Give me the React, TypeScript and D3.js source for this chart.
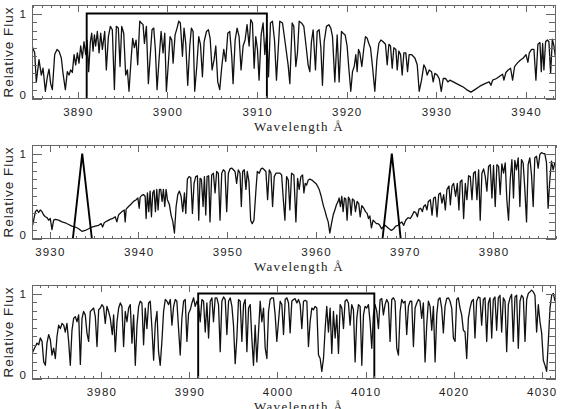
import React, { useRef, useEffect } from 'react';
import { select, scaleLinear, line, range } from 'd3';

// flux, [wavelength (A), relative flux]
const panel1Flux = [
  [3884.90,0.62],[3885.20,0.54],[3885.38,0.20],[3885.68,0.46],[3885.94,0.28],[3886.13,0.36],[3886.39,0.09],[3886.61,0.26],[3886.80,0.35],[3886.98,0.18],[3887.17,0.11],[3887.43,0.52],[3887.69,0.58],[3887.91,0.56],[3888.17,0.48],[3888.36,0.30],[3888.62,0.11],[3888.84,0.32],[3889.03,0.28],[3889.21,0.34],[3889.40,0.31],[3889.59,0.52],[3889.77,0.40],[3889.96,0.54],[3890.14,0.42],[3890.33,0.62],[3890.52,0.48],[3890.70,0.67],[3890.89,0.52],[3891.04,0.69],[3891.22,0.32],[3891.41,0.67],[3891.56,0.77],[3891.71,0.56],[3891.86,0.75],[3892.00,0.62],[3892.19,0.79],[3892.38,0.54],[3892.56,0.77],[3892.75,0.58],[3893.01,0.79],[3893.19,0.34],[3893.42,0.73],[3893.64,0.85],[3893.86,0.81],[3894.09,0.11],[3894.31,0.85],[3894.53,0.83],[3894.72,0.38],[3894.91,0.85],[3895.13,0.77],[3895.35,0.28],[3895.54,0.34],[3895.72,0.09],[3895.95,0.46],[3896.13,0.71],[3896.32,0.60],[3896.51,0.69],[3896.69,0.40],[3896.92,0.91],[3897.10,0.89],[3897.29,0.87],[3897.44,0.65],[3897.66,0.85],[3897.88,0.18],[3898.11,0.54],[3898.29,0.81],[3898.48,0.83],[3898.66,0.58],[3898.85,0.11],[3899.07,0.46],[3899.30,0.79],[3899.52,0.54],[3899.71,0.77],[3899.89,0.09],[3900.11,0.42],[3900.30,0.73],[3900.49,0.69],[3900.64,0.42],[3900.86,0.75],[3901.08,0.83],[3901.27,0.91],[3901.45,0.89],[3901.68,0.50],[3901.86,0.83],[3902.05,0.65],[3902.27,0.16],[3902.50,0.62],[3902.68,0.83],[3902.87,0.79],[3903.05,0.09],[3903.28,0.38],[3903.50,0.73],[3903.69,0.64],[3903.91,0.26],[3904.10,0.67],[3904.36,0.79],[3904.58,0.81],[3904.77,0.71],[3904.99,0.34],[3905.21,0.46],[3905.40,0.62],[3905.62,0.20],[3905.84,0.11],[3906.07,0.38],[3906.29,0.58],[3906.51,0.44],[3906.74,0.77],[3906.96,0.79],[3907.18,0.50],[3907.33,0.18],[3907.56,0.69],[3907.78,0.83],[3908.00,0.73],[3908.22,0.34],[3908.45,0.62],[3908.67,0.69],[3908.89,0.87],[3909.12,0.62],[3909.30,0.93],[3909.49,0.89],[3909.68,0.36],[3909.86,0.73],[3910.05,0.58],[3910.23,0.22],[3910.46,0.75],[3910.68,0.89],[3910.87,0.52],[3911.09,0.77],[3911.28,0.26],[3911.50,0.89],[3911.72,0.91],[3911.95,0.69],[3912.17,0.22],
  [3912.54,0.91],[3912.84,0.89],[3913.10,0.69],[3913.47,0.40],[3913.66,0.18],[3913.92,0.89],[3914.10,0.85],[3914.33,0.38],[3914.51,0.54],[3914.70,0.91],[3914.96,0.89],[3915.22,0.85],[3915.44,0.65],[3915.70,0.40],[3915.89,0.32],[3916.07,0.67],[3916.26,0.81],[3916.52,0.34],[3916.71,0.79],[3916.93,0.81],[3917.12,0.60],[3917.30,0.16],[3917.49,0.67],[3917.75,0.85],[3918.01,0.87],[3918.23,0.83],[3918.42,0.73],[3918.68,0.20],[3918.94,0.75],[3919.16,0.20],[3919.42,0.79],[3919.61,0.77],[3919.83,0.75],[3920.05,0.62],[3920.24,0.36],[3920.46,0.09],[3920.65,0.32],[3920.84,0.38],[3921.02,0.52],[3921.17,0.32],[3921.32,0.58],[3921.47,0.54],[3921.69,0.38],[3921.92,0.60],[3922.10,0.73],[3922.29,0.71],[3922.47,0.65],[3922.66,0.60],[3922.88,0.38],[3923.14,0.09],[3923.37,0.46],[3923.59,0.65],[3923.81,0.69],[3924.07,0.67],[3924.33,0.64],[3924.52,0.40],[3924.71,0.64],[3924.89,0.62],[3925.08,0.36],[3925.26,0.60],[3925.49,0.58],[3925.64,0.34],[3925.82,0.56],[3926.01,0.52],[3926.19,0.28],[3926.38,0.54],[3926.60,0.54],[3926.79,0.32],[3926.97,0.52],[3927.23,0.52],[3927.61,0.48],[3927.87,0.40],[3928.09,0.09],[3928.35,0.22],[3928.61,0.40],[3928.80,0.36],[3928.98,0.28],[3929.21,0.34],[3929.47,0.32],[3929.65,0.20],[3929.84,0.30],[3930.10,0.28],[3930.32,0.24],[3930.55,0.09],[3930.77,0.24],[3931.03,0.24],[3931.29,0.20],[3931.51,0.22],[3931.89,0.20],[3932.26,0.18],[3932.63,0.16],[3933.00,0.14],[3933.37,0.11],[3933.86,0.08],[3934.30,0.11],[3934.86,0.15],[3935.42,0.18],[3935.90,0.20],[3936.09,0.16],[3936.28,0.22],[3936.72,0.24],[3937.10,0.27],[3937.39,0.29],[3937.54,0.22],[3937.76,0.31],[3938.02,0.34],[3938.28,0.36],[3938.51,0.22],[3938.73,0.38],[3939.03,0.42],[3939.33,0.45],[3939.70,0.48],[3940.00,0.52],[3940.22,0.43],[3940.37,0.54],[3940.63,0.58],[3940.89,0.58],[3941.11,0.22],[3941.33,0.64],[3941.56,0.66],[3941.71,0.32],[3941.86,0.65],[3942.00,0.34],[3942.19,0.67],[3942.38,0.69],[3942.56,0.67],[3942.75,0.30],[3942.94,0.70],[3943.12,0.62],[3943.27,0.50],
];

const panel2Flux = [
  [3928.00,0.13],[3928.19,0.22],[3928.38,0.32],[3928.56,0.34],[3928.75,0.31],[3928.94,0.34],[3929.13,0.32],[3929.31,0.28],[3929.50,0.26],[3929.69,0.25],[3929.88,0.22],[3930.06,0.24],[3930.25,0.11],[3930.44,0.22],[3930.63,0.23],[3931.00,0.22],[3931.38,0.20],[3931.75,0.19],[3932.13,0.17],[3932.50,0.15],[3932.88,0.14],[3933.25,0.12],[3933.63,0.09],[3934.00,0.10],[3934.38,0.12],[3934.75,0.14],[3935.13,0.15],[3935.50,0.16],[3935.80,0.18],[3935.95,0.14],[3936.14,0.19],[3936.44,0.21],[3936.81,0.23],[3937.11,0.24],[3937.38,0.26],[3937.56,0.20],[3937.75,0.28],[3938.13,0.32],[3938.39,0.34],[3938.50,0.20],[3938.61,0.35],[3938.88,0.38],[3939.18,0.41],[3939.44,0.44],[3939.74,0.46],[3939.93,0.48],[3940.08,0.36],[3940.19,0.49],[3940.38,0.51],[3940.56,0.52],[3940.75,0.50],[3940.86,0.24],[3941.01,0.54],[3941.16,0.32],[3941.31,0.56],[3941.46,0.26],[3941.61,0.54],[3941.76,0.57],[3941.91,0.32],[3942.06,0.58],[3942.21,0.34],[3942.36,0.58],[3942.51,0.58],[3942.66,0.44],[3942.81,0.58],[3942.96,0.38],[3943.11,0.58],[3943.26,0.46],[3943.49,0.40],[3943.67,0.28],[3943.86,0.21],[3944.05,0.07],[3944.24,0.38],[3944.43,0.52],[3944.61,0.56],[3944.80,0.50],[3944.99,0.32],[3945.18,0.54],[3945.33,0.30],[3945.51,0.70],[3945.70,0.73],[3945.89,0.72],[3946.08,0.30],[3946.26,0.65],[3946.45,0.73],[3946.64,0.74],[3946.79,0.22],[3946.94,0.71],[3947.09,0.70],[3947.28,0.38],[3947.43,0.73],[3947.58,0.28],[3947.73,0.73],[3947.91,0.74],[3948.06,0.20],[3948.25,0.75],[3948.44,0.77],[3948.63,0.54],[3948.81,0.79],[3949.00,0.77],[3949.19,0.22],[3949.38,0.77],[3949.56,0.81],[3949.75,0.79],[3949.94,0.32],[3950.13,0.77],[3950.31,0.82],[3950.50,0.83],[3950.69,0.81],[3950.88,0.79],[3951.06,0.65],[3951.25,0.81],[3951.44,0.77],[3951.59,0.38],[3951.74,0.79],[3951.92,0.81],[3952.11,0.58],[3952.26,0.79],[3952.45,0.67],[3952.64,0.22],[3952.82,0.18],[3953.01,0.22],[3953.24,0.58],[3953.39,0.79],[3953.61,0.77],[3953.80,0.82],[3953.99,0.83],[3954.17,0.81],[3954.36,0.79],[3954.55,0.46],[3954.74,0.81],[3954.93,0.77],[3955.11,0.38],[3955.30,0.73],[3955.49,0.77],
  [3955.94,0.77],[3956.13,0.75],[3956.31,0.48],[3956.50,0.22],[3956.69,0.73],[3956.88,0.69],[3957.06,0.34],[3957.25,0.77],[3957.51,0.75],[3957.74,0.20],[3957.93,0.71],[3958.11,0.58],[3958.30,0.73],[3958.49,0.75],[3958.64,0.54],[3958.79,0.65],[3958.94,0.63],[3959.13,0.69],[3959.31,0.70],[3959.54,0.69],[3959.76,0.67],[3959.99,0.65],[3960.18,0.62],[3960.36,0.58],[3960.59,0.50],[3960.81,0.40],[3961.04,0.32],[3961.19,0.26],[3961.38,0.20],[3961.56,0.07],[3961.75,0.18],[3961.94,0.28],[3962.13,0.34],[3962.31,0.40],[3962.50,0.44],[3962.61,0.48],[3962.76,0.38],[3962.91,0.50],[3963.06,0.32],[3963.21,0.48],[3963.36,0.47],[3963.51,0.22],[3963.66,0.49],[3963.81,0.46],[3963.96,0.28],[3964.11,0.47],[3964.30,0.45],[3964.45,0.32],[3964.64,0.44],[3964.83,0.41],[3964.98,0.26],[3965.17,0.39],[3965.39,0.36],[3965.58,0.32],[3965.77,0.30],[3965.92,0.24],[3966.07,0.27],[3966.25,0.13],[3966.44,0.22],[3966.63,0.20],[3966.81,0.18],[3967.00,0.18],[3967.19,0.16],[3967.38,0.12],[3967.56,0.14],[3967.79,0.16],[3968.01,0.14],[3968.24,0.12],[3968.50,0.10],[3968.76,0.12],[3968.99,0.15],[3969.25,0.16],[3969.44,0.18],[3969.67,0.20],[3969.89,0.16],[3970.11,0.22],[3970.38,0.25],[3970.64,0.24],[3970.86,0.28],[3971.05,0.32],[3971.24,0.31],[3971.43,0.26],[3971.61,0.35],[3971.80,0.36],[3971.99,0.32],[3972.14,0.38],[3972.33,0.40],[3972.51,0.34],[3972.66,0.44],[3972.89,0.46],[3973.08,0.28],[3973.26,0.48],[3973.45,0.49],[3973.64,0.26],[3973.83,0.52],[3974.01,0.54],[3974.20,0.42],[3974.39,0.52],[3974.58,0.34],[3974.76,0.58],[3974.99,0.62],[3975.14,0.40],[3975.33,0.62],[3975.51,0.65],[3975.74,0.50],[3975.93,0.65],[3976.11,0.34],[3976.26,0.67],[3976.45,0.69],[3976.64,0.24],[3976.83,0.65],[3977.01,0.46],[3977.20,0.74],[3977.39,0.73],[3977.58,0.46],[3977.76,0.77],[3977.95,0.79],[3978.14,0.46],[3978.33,0.81],[3978.51,0.22],[3978.70,0.77],[3978.89,0.82],[3979.08,0.73],[3979.26,0.56],[3979.45,0.85],[3979.64,0.87],[3979.83,0.48],[3980.01,0.86],[3980.20,0.38],[3980.39,0.87],[3980.58,0.85],[3980.76,0.52],[3980.95,0.88],[3981.14,0.77],[3981.33,0.89],[3981.51,0.46],[3981.70,0.22],[3981.89,0.69],[3982.08,0.93],[3982.26,0.48],[3982.41,0.92],[3982.60,0.81],[3982.79,0.95],[3982.98,0.38],[3983.16,0.93],[3983.35,0.89],[3983.54,0.58],[3983.73,0.20],[3983.91,0.87],[3984.10,0.95],[3984.29,0.75],[3984.48,0.38],[3984.66,0.95],[3984.85,0.97],[3985.04,0.83],[3985.23,0.99],[3985.41,1.01],[3985.60,1.00],[3985.79,1.00],[3985.98,0.89],[3986.16,0.36],[3986.35,0.69],[3986.54,0.91],[3986.73,0.81],[3986.91,0.89],
];

const panel3Flux = [
  [3972.13,0.30],[3972.32,0.34],[3972.51,0.38],[3972.70,0.42],[3972.89,0.40],[3973.08,0.48],[3973.27,0.44],[3973.46,0.20],[3973.65,0.16],[3973.83,0.42],[3974.02,0.52],[3974.21,0.46],[3974.40,0.28],[3974.59,0.36],[3974.78,0.24],[3974.97,0.50],[3975.16,0.63],[3975.35,0.59],[3975.54,0.65],[3975.73,0.63],[3975.91,0.55],[3976.10,0.65],[3976.29,0.44],[3976.48,0.16],[3976.67,0.57],[3976.86,0.71],[3977.05,0.73],[3977.24,0.67],[3977.43,0.75],[3977.62,0.17],[3977.81,0.71],[3977.99,0.79],[3978.18,0.75],[3978.37,0.54],[3978.56,0.44],[3978.75,0.79],[3978.94,0.81],[3979.13,0.83],[3979.32,0.73],[3979.51,0.38],[3979.70,0.81],[3979.89,0.83],[3980.07,0.87],[3980.26,0.84],[3980.45,0.65],[3980.64,0.85],[3980.83,0.79],[3981.02,0.71],[3981.25,0.52],[3981.40,0.75],[3981.59,0.32],[3981.78,0.67],[3981.97,0.83],[3982.16,0.89],[3982.34,0.85],[3982.53,0.38],[3982.72,0.79],[3982.91,0.67],[3983.10,0.83],[3983.29,0.87],[3983.48,0.42],[3983.67,0.75],[3983.86,0.16],[3984.05,0.63],[3984.24,0.85],[3984.42,0.91],[3984.61,0.89],[3984.80,0.40],[3984.99,0.83],[3985.18,0.59],[3985.37,0.89],[3985.56,0.91],[3985.75,0.59],[3985.94,0.22],[3986.13,0.65],[3986.32,0.79],[3986.50,0.32],[3986.69,0.16],[3986.88,0.44],[3987.07,0.79],[3987.26,0.93],[3987.45,0.91],[3987.64,0.87],[3987.83,0.93],[3988.02,0.63],[3988.21,0.85],[3988.40,0.93],[3988.58,0.91],[3988.77,0.59],[3988.96,0.28],[3989.15,0.71],[3989.34,0.91],[3989.53,0.93],[3989.72,0.44],[3989.91,0.77],[3990.10,0.81],[3990.29,0.89],[3990.48,0.95],[3990.66,0.85],[3990.85,0.91],[3991.04,0.87],[3991.23,0.67],[3991.42,0.93],[3991.61,0.91],[3991.80,0.55],[3991.99,0.89],[3992.18,0.48],[3992.37,0.91],[3992.56,0.95],[3992.74,0.67],[3992.93,0.95],[3993.12,0.95],[3993.31,0.87],[3993.50,0.32],[3993.69,0.91],[3993.88,0.96],[3994.07,0.93],[3994.26,0.52],[3994.45,0.91],[3994.64,0.95],[3994.83,0.85],[3995.01,0.63],[3995.20,0.18],[3995.39,0.48],[3995.58,0.93],[3995.77,0.91],[3995.96,0.44],[3996.15,0.87],[3996.34,0.93],[3996.53,0.32],[3996.72,0.83],[3996.91,0.87],[3997.09,0.48],[3997.28,0.16],[3997.47,0.63],[3997.66,0.20],[3997.85,0.55],[3998.04,0.91],[3998.23,0.67],[3998.42,0.83],[3998.61,0.36],[3998.80,0.24],[3998.99,0.79],[3999.17,0.93],[3999.36,0.95],[3999.55,0.95],[3999.74,0.75],[3999.93,0.44],
  [4000.31,0.91],[4000.50,0.87],[4000.69,0.52],[4000.88,0.93],[4001.07,0.95],[4001.26,0.89],[4001.44,0.54],[4001.63,0.91],[4001.82,0.93],[4002.01,0.94],[4002.20,0.89],[4002.39,0.93],[4002.58,0.87],[4002.77,0.59],[4002.96,0.91],[4003.15,0.92],[4003.34,0.91],[4003.52,0.38],[4003.71,0.67],[4003.90,0.83],[4004.09,0.81],[4004.28,0.85],[4004.47,0.83],[4004.66,0.28],[4004.85,0.24],[4005.04,0.09],[4005.23,0.24],[4005.42,0.59],[4005.60,0.85],[4005.79,0.55],[4005.98,0.83],[4006.17,0.30],[4006.36,0.79],[4006.55,0.48],[4006.74,0.75],[4006.93,0.30],[4007.12,0.87],[4007.31,0.83],[4007.50,0.59],[4007.68,0.91],[4007.87,0.93],[4008.06,0.89],[4008.25,0.63],[4008.44,0.87],[4008.63,0.81],[4008.82,0.20],[4009.01,0.71],[4009.20,0.87],[4009.39,0.85],[4009.58,0.16],[4009.77,0.75],[4009.95,0.85],[4010.14,0.83],[4010.33,0.87],[4010.52,0.67],[4010.71,0.36],[4010.90,0.75],[4011.09,0.87],[4011.28,0.79],[4011.47,0.59],[4011.66,0.93],[4011.85,0.94],[4012.03,0.75],[4012.22,0.87],[4012.41,0.93],[4012.60,0.89],[4012.79,0.44],[4012.98,0.93],[4013.17,0.95],[4013.36,0.91],[4013.55,0.36],[4013.74,0.28],[4013.93,0.79],[4014.11,0.93],[4014.30,0.89],[4014.49,0.91],[4014.68,0.52],[4014.87,0.85],[4015.06,0.91],[4015.25,0.91],[4015.44,0.38],[4015.63,0.83],[4015.82,0.89],[4016.01,0.93],[4016.19,0.91],[4016.38,0.71],[4016.57,0.89],[4016.76,0.20],[4016.95,0.63],[4017.14,0.91],[4017.33,0.85],[4017.52,0.57],[4017.71,0.85],[4017.90,0.20],[4018.09,0.75],[4018.27,0.93],[4018.46,0.95],[4018.65,0.83],[4018.84,0.54],[4019.03,0.85],[4019.22,0.94],[4019.41,0.95],[4019.60,0.91],[4019.79,0.83],[4019.98,0.48],[4020.17,0.44],[4020.35,0.93],[4020.54,0.95],[4020.73,0.83],[4020.92,0.75],[4021.11,0.57],[4021.30,0.55],[4021.49,0.24],[4021.68,0.71],[4021.87,0.83],[4022.06,0.91],[4022.25,0.93],[4022.43,0.48],[4022.62,0.91],[4022.81,0.96],[4023.00,0.95],[4023.19,0.63],[4023.38,0.93],[4023.57,0.95],[4023.76,0.44],[4023.95,0.89],[4024.14,0.95],[4024.33,0.48],[4024.51,0.93],[4024.70,0.96],[4024.89,0.57],[4025.08,0.95],[4025.27,0.98],[4025.46,0.55],[4025.65,0.95],[4025.84,0.91],[4026.03,0.32],[4026.22,0.87],[4026.41,0.95],[4026.59,0.99],[4026.78,0.44],[4026.97,0.96],[4027.16,0.98],[4027.35,0.36],[4027.54,0.91],[4027.73,0.98],[4027.92,0.95],[4028.11,0.44],[4028.30,0.93],[4028.48,1.00],[4028.67,1.02],[4028.86,1.04],[4029.05,1.02],[4029.24,0.98],[4029.43,0.55],[4029.62,0.87],[4029.81,0.67],[4030.00,0.54],[4030.19,0.22],[4030.38,0.16],[4030.57,0.09],[4030.76,0.44],[4030.95,0.83],[4031.14,0.98],[4031.33,1.00],[4031.52,0.91],
];

// overplotted profiles: filter boxes (panels 1, 3) and the Ca H & K triangles (panel 2)
const panel1Overlays = [[[3891.0, 0], [3891.0, 1], [3911.1, 1], [3911.1, 0]]];
const panel2Overlays = [
  [[3932.6, 0], [3933.66, 1], [3934.75, 0]],
  [[3967.5, 0], [3968.55, 1], [3969.55, 0]],
];
const panel3Overlays = [[[3991.0, 0], [3991.0, 1], [4011.0, 1], [4011.0, 0]]];

const panelDomains = [[3884.9, 3943.35], [3928.0, 3987.05], [3972.13, 4031.63]];
const panelTicks = [
  [3890, 3900, 3910, 3920, 3930, 3940],
  [3930, 3940, 3950, 3960, 3970, 3980],
  [3980, 3990, 4000, 4010, 4020, 4030],
];
const yTickValues = [0, 1];
const xTitle = 'Wavelength \u00c5';
const yTitle = 'Relative Flux';

const LEFT = 32;
const RIGHT = 556;
const H = 94;
const TOPS = [5, 145, 285];
const SANS = '"Liberation Sans", Arial, sans-serif';
const SERIF = '"Liberation Serif", "Times New Roman", serif';

export default function App() {
  const svgRef = useRef<SVGSVGElement>(null);

  useEffect(() => {
    const svg = select(svgRef.current);
    svg.selectAll('*').remove();

    const spectra = [panel1Flux, panel2Flux, panel3Flux];
    const overlays = [panel1Overlays, panel2Overlays, panel3Overlays];

    spectra.forEach((flux, i) => {
      const top = TOPS[i];
      const bottom = top + H;
      const x = scaleLinear().domain(panelDomains[i]).range([LEFT, RIGHT]);
      const y = scaleLinear().domain([0, 1.1]).range([bottom, top]);
      const g = svg.append('g');

      const clipId = 'clip' + i;
      g.append('clipPath').attr('id', clipId)
        .append('rect').attr('x', LEFT).attr('y', top).attr('width', RIGHT - LEFT).attr('height', H);

      const myLine = line<number[]>().x((d) => x(d[0])).y((d) => y(d[1]));

      g.append('path')
        .attr('d', myLine(flux as number[][]))
        .attr('clip-path', `url(#${clipId})`)
        .attr('fill', 'none')
        .attr('stroke', '#111')
        .attr('stroke-width', 1.3)
        .attr('stroke-linejoin', 'round');

      g.selectAll('path.overlay')
        .data(overlays[i])
        .join('path')
        .attr('class', 'overlay')
        .attr('d', (d) => myLine(d as number[][]))
        .attr('fill', 'none')
        .attr('stroke', '#000')
        .attr('stroke-width', 1.9);

      // frame
      g.append('rect')
        .attr('x', LEFT + 0.5).attr('y', top + 0.5)
        .attr('width', RIGHT - LEFT - 1).attr('height', H - 1)
        .attr('fill', 'none').attr('stroke', '#666').attr('stroke-width', 1);

      // x ticks, minor every 1 A, major every 10 A, bottom and top
      const d = panelDomains[i];
      const minor = range(Math.ceil(d[0]), Math.floor(d[1]) + 1);
      const tickStroke = '#666';
      minor.forEach((v) => {
        const len = v % 10 === 0 ? 7 : 3;
        const px = Math.round(x(v)) + 0.5;
        g.append('line').attr('x1', px).attr('x2', px).attr('y1', bottom).attr('y2', bottom - len)
          .attr('stroke', tickStroke);
        g.append('line').attr('x1', px).attr('x2', px).attr('y1', top).attr('y2', top + len)
          .attr('stroke', tickStroke);
      });

      // y ticks every 0.1
      range(0, 11).forEach((k) => {
        const v = k / 10;
        const major = k === 0 || k === 10;
        const py = Math.round(y(v)) + 0.5;
        g.append('line').attr('x1', LEFT).attr('x2', LEFT + (major ? 10 : 5)).attr('y1', py).attr('y2', py)
          .attr('stroke', tickStroke);
        g.append('line').attr('x1', RIGHT).attr('x2', RIGHT - (major ? 10 : 7)).attr('y1', py).attr('y2', py)
          .attr('stroke', tickStroke);
      });

      g.selectAll('text.xt')
        .data(panelTicks[i])
        .join('text')
        .attr('class', 'xt')
        .attr('x', (v) => x(v) + 0.6)
        .attr('y', bottom + 17)
        .attr('text-anchor', 'middle')
        .style('font-family', SANS)
        .style('font-size', '11.5px')
        .style('letter-spacing', '1.2px')
        .attr('fill', '#222')
        .text((v) => v);

      g.selectAll('text.yt')
        .data(yTickValues)
        .join('text')
        .attr('class', 'yt')
        .attr('x', 26)
        .attr('y', (v) => Math.min(y(v) + 4.5, bottom))
        .attr('text-anchor', 'end')
        .style('font-family', SANS)
        .style('font-size', '11.5px')
        .attr('fill', '#222')
        .text((v) => v);

      g.append('text')
        .attr('transform', `translate(12.5,${top + H / 2}) rotate(-90)`)
        .attr('text-anchor', 'middle')
        .style('font-family', SANS)
        .style('font-size', '13.5px')
        .style('letter-spacing', '1px')
        .attr('fill', '#222')
        .text(yTitle);

      // the last panel's title runs off the bottom edge, as in the original figure
      g.append('text')
        .attr('x', 299)
        .attr('y', bottom + 32)
        .attr('text-anchor', 'middle')
        .style('font-family', SERIF)
        .style('font-size', '13px')
        .style('letter-spacing', '1.3px')
        .attr('fill', '#222')
        .text(xTitle);
    });
  }, []);

  return (
    <svg
      ref={svgRef}
      width={561}
      height={409}
      style={{ position: 'absolute', left: 0, top: 0, background: '#fff' }}
    ></svg>
  );
}
